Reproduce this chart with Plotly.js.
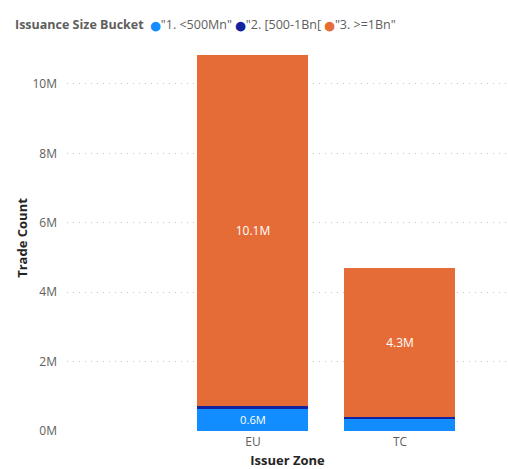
<!DOCTYPE html>
<html>
<head>
<meta charset="utf-8">
<script src="https://cdn.plot.ly/plotly-3.0.1.min.js"></script>
<style>html,body{margin:0;padding:0;background:#fff;}#chart{width:508px;height:469px;}</style>
</head>
<body>
<div id="chart"></div>
<script>
const categories = ['EU', 'TC'];
const seriesNames = ['"1. <500Mn"', '"2. [500-1Bn[', '"3. >=1Bn"'];
const small = [630000, 340000];
const medium = [90000, 60000];
const large = [10120000, 4300000];
const smallLabels = ['0.6M', ''];
const mediumLabels = ['', ''];
const largeLabels = ['10.1M', '4.3M'];
const yTickVals = [0, 2000000, 4000000, 6000000, 8000000, 10000000];
const yTickText = ['0M', '2M', '4M', '6M', '8M', '10M'];
const legendTitle = 'Issuance Size Bucket';

const colors = ['#118DFF', '#12239E', '#E66C37'];
const font = 'Open Sans, Noto Sans, sans-serif';
const vals = [small, medium, large];
const labels = [smallLabels, mediumLabels, largeLabels];

const traces = vals.map((v, i) => ({
  type: 'bar', x: categories, y: v, name: seriesNames[i],
  marker: {color: colors[i], line: {width: 0}},
  text: labels[i], textposition: 'inside', insidetextanchor: 'middle',
  textfont: {color: '#ffffff', size: 12, family: font},
  hoverinfo: 'none', width: 0.755, showlegend: false
}));

let legendText = '<b>' + legendTitle + '</b> ';
seriesNames.forEach((n, i) => {
  legendText += ' <span style="color:' + colors[i] + ';font-family:DejaVu Sans;font-size:9.5px">⬤</span>' +
    n.replace(/</g, '&lt;').replace(/>/g, '&gt;');
});

const layout = {
  width: 508, height: 469,
  margin: {l: 67, r: 0, t: 45, b: 38},
  barmode: 'stack', bargap: 0,
  paper_bgcolor: '#ffffff', plot_bgcolor: '#ffffff',
  font: {family: font, color: '#605E5C', size: 12},
  xaxis: {
    type: 'category', range: [-1.265, 1.735],
    showgrid: false, zeroline: false, showline: false, ticks: '',
    tickfont: {size: 12, color: '#605E5C'},
    ticklabelstandoff: 2,
    title: {text: 'Issuer Zone', font: {size: 13, color: '#252423', family: font, weight: 'bold'}, standoff: 8},
    automargin: false
  },
  yaxis: {
    range: [0, 11120000],
    tickvals: yTickVals, ticktext: yTickText,
    showgrid: true, gridcolor: '#C8C6C4', griddash: '1px,5px', gridwidth: 1,
    zeroline: false, showline: false, ticks: '',
    tickfont: {size: 12, color: '#605E5C'},
    ticklabelstandoff: 9,
    title: {text: 'Trade Count', font: {size: 13, color: '#252423', family: font, weight: 'bold'}, standoff: 1},
    automargin: false
  },
  annotations: [{
    xref: 'paper', yref: 'paper', x: -0.123, y: 1.052, xanchor: 'left', yanchor: 'middle',
    text: legendText, showarrow: false,
    font: {size: 12.5, color: '#605E5C', family: font}
  }]
};

Plotly.newPlot('chart', traces, layout, {displayModeBar: false, staticPlot: true});
</script>
</body>
</html>
